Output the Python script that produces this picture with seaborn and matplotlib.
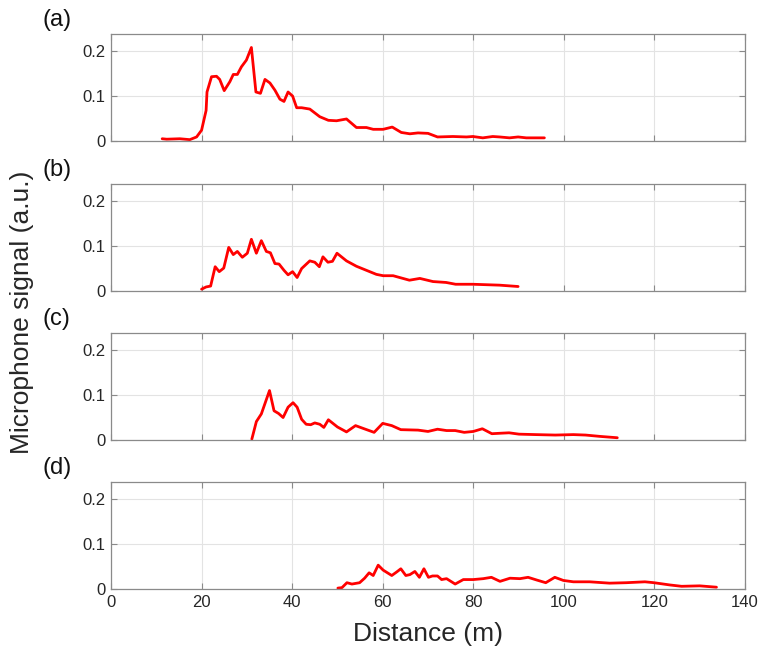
import numpy as np
import pandas as pd
import matplotlib
matplotlib.use("Agg")
import matplotlib.pyplot as plt
import seaborn as sns

# ---- data ----
xa = [11.3, 12.3, 15.2, 17.4, 18.9, 20.0, 21.0, 21.2, 22.2, 23.3, 24.0, 25.0, 26.25, 27.0, 27.9,
      28.8, 29.9, 31.0, 32.0, 33.0, 34.0, 35.1, 36.2, 37.3, 38.2, 39.1, 40.1, 41.0, 42.1, 43.9,
      46.1, 48.0, 49.8, 52.0, 54.2, 56.4, 57.9, 60.1, 62.1, 64.1, 66.0, 67.8, 70.0, 72.1, 75.5,
      78.5, 79.9, 82.1, 84.3, 85.8, 88.0, 89.9, 91.7, 95.7]
ya = [0.005, 0.004, 0.005, 0.003, 0.009, 0.024, 0.068, 0.109, 0.143, 0.144, 0.137, 0.112, 0.132, 0.148, 0.148,
      0.165, 0.180, 0.208, 0.109, 0.106, 0.137, 0.129, 0.113, 0.093, 0.088, 0.109, 0.100, 0.074, 0.074, 0.071,
      0.054, 0.046, 0.045, 0.049, 0.030, 0.030, 0.026, 0.026, 0.031, 0.019, 0.016, 0.018, 0.017, 0.009, 0.010,
      0.009, 0.010, 0.007, 0.010, 0.009, 0.007, 0.009, 0.007, 0.007]

xb = [20.0, 21.0, 22.0, 23.0, 23.9, 24.9, 26.0, 27.0, 27.9, 29.0, 30.1, 31.0, 32.1, 33.2, 34.3,
      35.2, 36.2, 37.1, 38.2, 39.1, 40.1, 41.1, 42.1, 43.9, 45.0, 46.0, 46.8, 47.9, 48.9, 49.9,
      52.0, 54.2, 56.4, 58.6, 60.1, 62.3, 65.9, 68.2, 71.1, 74.0, 76.1, 79.9, 85.8, 89.9]
yb = [0.004, 0.009, 0.011, 0.054, 0.043, 0.051, 0.097, 0.081, 0.088, 0.075, 0.084, 0.115, 0.084, 0.112, 0.088,
      0.085, 0.061, 0.060, 0.046, 0.036, 0.043, 0.030, 0.050, 0.067, 0.064, 0.054, 0.076, 0.064, 0.066, 0.084,
      0.067, 0.055, 0.046, 0.037, 0.034, 0.034, 0.024, 0.028, 0.021, 0.019, 0.015, 0.015, 0.013, 0.010]

xc = [31.1, 32.1, 33.2, 35.0, 36.0, 37.0, 38.0, 39.1, 40.2, 41.1, 42.1, 43.1, 44.1, 45.0, 46.1,
      47.0, 48.0, 50.0, 52.0, 54.0, 55.9, 58.1, 60.0, 62.0, 64.0, 67.8, 70.0, 72.1, 74.1, 76.0,
      78.0, 80.0, 82.0, 84.1, 85.9, 87.9, 90.1, 93.8, 98.1, 102.1, 104.8, 108.0, 111.8]
yc = [0.002, 0.041, 0.058, 0.110, 0.065, 0.059, 0.050, 0.073, 0.083, 0.073, 0.046, 0.035, 0.034, 0.038, 0.035,
      0.028, 0.045, 0.029, 0.018, 0.032, 0.025, 0.017, 0.037, 0.032, 0.023, 0.022, 0.019, 0.024, 0.021, 0.021,
      0.017, 0.019, 0.025, 0.014, 0.015, 0.016, 0.013, 0.012, 0.011, 0.012, 0.011, 0.008, 0.005]

xd = [50.1, 51.0, 52.1, 53.2, 54.9, 56.0, 57.0, 57.9, 59.0, 60.1, 62.0, 63.1, 64.0, 65.1, 66.0,
      67.1, 68.1, 69.1, 70.1, 71.0, 72.1, 73.0, 74.1, 76.0, 77.8, 80.0, 82.2, 84.0, 85.9, 88.1,
      90.3, 92.1, 94.0, 96.0, 98.0, 99.9, 102.1, 105.7, 110.1, 113.8, 117.9, 119.9, 123.4, 126.0,
      130.0, 133.7]
yd = [0.002, 0.003, 0.014, 0.011, 0.014, 0.024, 0.036, 0.030, 0.053, 0.042, 0.030, 0.038, 0.045, 0.030, 0.032,
      0.039, 0.026, 0.045, 0.026, 0.029, 0.029, 0.021, 0.023, 0.011, 0.021, 0.021, 0.023, 0.026, 0.017, 0.024,
      0.023, 0.026, 0.020, 0.014, 0.026, 0.019, 0.016, 0.016, 0.013, 0.014, 0.016, 0.014, 0.009, 0.006,
      0.007, 0.004]

panel_labels = ["(a)", "(b)", "(c)", "(d)"]
x_ticks = [0, 20, 40, 60, 80, 100, 120, 140]
y_ticks = [0, 0.1, 0.2]
y_ticklabels = ["0", "0.1", "0.2"]
x_label = "Distance (m)"
y_label = "Microphone signal (a.u.)"

series = [(xa, ya), (xb, yb), (xc, yc), (xd, yd)]

# ---- style ----
sns.set_theme(style="white")
plt.rcParams['font.family'] = ['Liberation Sans', 'DejaVu Sans']

W, H = 762, 655
fig = plt.figure(figsize=(W / 100, H / 100), dpi=100)

left_px, right_px = 111, 745
tops = [34, 184, 333, 482]
ax_h = 107
edge = "#8a8a8a"
txt = "#262626"

axes = []
for i, (xs, ys) in enumerate(series):
    top = tops[i]
    ax = fig.add_axes([left_px / W, 1 - (top + ax_h) / H, (right_px - left_px) / W, ax_h / H])
    df = pd.DataFrame({"x": xs, "y": ys})
    sns.lineplot(data=df, x="x", y="y", ax=ax, color="#ff0000", linewidth=2.0, sort=False)
    ax.set_xlim(0, 140)
    ax.set_ylim(0, 0.238)
    ax.set_xticks(x_ticks)
    ax.set_yticks(y_ticks)
    ax.set_yticklabels(y_ticklabels)
    ax.grid(True, color="#e3e3e3", linewidth=0.8)
    ax.set_axisbelow(True)
    for s in ax.spines.values():
        s.set_visible(True)
        s.set_color(edge)
        s.set_linewidth(0.9)
    ax.tick_params(direction="in", length=4, width=0.8, color=edge,
                   top=True, right=True, bottom=True, left=True,
                   labelsize=12, labelcolor=txt, pad=4)
    ax.set_xlabel("")
    ax.set_ylabel("")
    if i < 3:
        ax.set_xticklabels([])
    ax.text(43 / W, 1 - (top - 14) / H, panel_labels[i], transform=fig.transFigure,
            fontsize=17, color="#111111", ha="left", va="center")
    axes.append(ax)

fig.text(22 / W, 1 - 312 / H, y_label, rotation=90, fontsize=19, color=txt,
         ha="center", va="center")
fig.text((left_px + right_px) / 2 / W, 1 - 634 / H, x_label, fontsize=19, color=txt,
         ha="center", va="center")

fig.savefig("out.png", dpi=100)
